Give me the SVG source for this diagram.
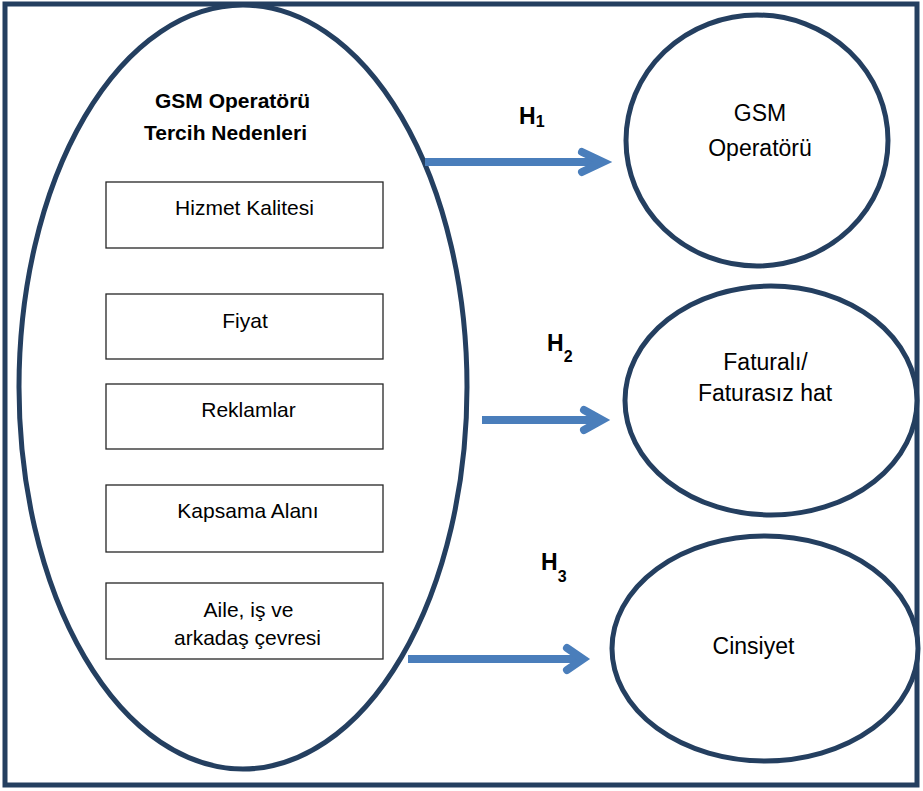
<svg xmlns="http://www.w3.org/2000/svg" width="923" height="791" viewBox="0 0 923 791">
<style>
.frame{fill:#ffffff;stroke:#243F60;stroke-width:5}
.node{fill:#ffffff;stroke:#243F60;stroke-width:5}
.box{fill:#ffffff;stroke:#262626;stroke-width:1.3}
.t{font-family:"Liberation Sans",Arial,sans-serif;fill:#000000}
.bt{font-size:21px;text-anchor:middle}
.ct{font-size:23px;text-anchor:middle}
.ht{font-size:21px;font-weight:bold}
.hl{font-size:23px;font-weight:bold}
.sub{font-size:16px;font-weight:bold}
.shaft{stroke:#4A7EBB;stroke-width:8;fill:none}
.head{stroke:#4A7EBB;stroke-width:8;fill:none;stroke-linecap:round;stroke-linejoin:miter;stroke-miterlimit:10}
</style>
<rect class="frame" x="5" y="4" width="912" height="781"/>
<g id="reasons">
<ellipse class="node" cx="243" cy="387" rx="224" ry="382"/>
<text class="t ht" x="155" y="108">GSM Operatörü</text>
<text class="t ht" x="144" y="140">Tercih Nedenleri</text>
</g>
<g id="hizmet">
<rect class="box" x="106" y="182" width="277" height="66"/>
<text class="t bt" x="244.5" y="215">Hizmet Kalitesi</text>
</g>
<g id="fiyat">
<rect class="box" x="106" y="294" width="277" height="65"/>
<text class="t bt" x="245" y="328">Fiyat</text>
</g>
<g id="reklamlar">
<rect class="box" x="106" y="384" width="277" height="65"/>
<text class="t bt" x="248.5" y="417">Reklamlar</text>
</g>
<g id="kapsama">
<rect class="box" x="106" y="485" width="277" height="67"/>
<text class="t bt" x="248" y="518">Kapsama Alanı</text>
</g>
<g id="aile">
<rect class="box" x="106" y="583" width="277" height="76"/>
<text class="t bt" x="248.5" y="617">Aile, iş ve</text>
<text class="t bt" x="247.5" y="645">arkadaş çevresi</text>
</g>
<g id="gsm">
<ellipse class="node" cx="757" cy="140.5" rx="131" ry="125.5"/>
<text class="t ct" x="760" y="121">GSM</text>
<text class="t ct" x="760" y="156">Operatörü</text>
</g>
<g id="fatura">
<ellipse class="node" cx="771" cy="400.5" rx="146" ry="114.5"/>
<text class="t ct" x="765.5" y="370">Faturalı/</text>
<text class="t ct" x="765" y="401">Faturasız hat</text>
</g>
<g id="cinsiyet">
<ellipse class="node" cx="765" cy="648.5" rx="153" ry="112.5"/>
<text class="t ct" x="753.5" y="654">Cinsiyet</text>
</g>
<g id="connectors">
<line class="shaft" x1="425" y1="162" x2="600" y2="162"/>
<polyline class="head" points="582,152 603,162 582,172"/>
<line class="shaft" x1="482" y1="420" x2="598" y2="420"/>
<polyline class="head" points="584,410 602,420 584,430"/>
<line class="shaft" x1="408" y1="659" x2="580" y2="659"/>
<polyline class="head" points="567,648 583,659 567,670"/>
</g>
<g id="labels">
<text class="t hl" x="519" y="124">H<tspan class="sub" dy="3">1</tspan></text>
<text class="t hl" x="547" y="351">H<tspan class="sub" dy="11">2</tspan></text>
<text class="t hl" x="541" y="570">H<tspan class="sub" dy="12">3</tspan></text>
</g>
</svg>
